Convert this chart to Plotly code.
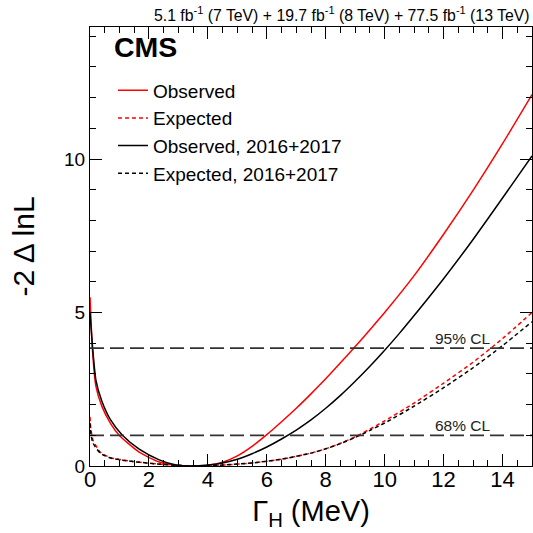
import plotly.graph_objects as go

# Observed (all data)
obs_x = [0, 0.08, 0.2, 0.4, 0.7, 0.99, 1.67, 2.35, 3.0, 3.7, 4.0, 4.5, 5.0, 5.5, 6.0, 6.5, 7.0, 7.5, 8.0, 8.5, 9.0, 9.5, 10.0, 11.0, 12.0, 13.0, 14.0, 15.0]
obs_y = [5.5, 3.84, 2.6, 1.95, 1.38, 1.0, 0.45, 0.13, 0.02, 0.0, 0.02, 0.12, 0.33, 0.64, 1.02, 1.44, 1.88, 2.35, 2.84, 3.36, 3.89, 4.44, 5.0, 6.2, 7.55, 8.98, 10.5, 12.1]
# Observed, 2016+2017
obs17_x = [0, 0.09, 0.2, 0.4, 0.7, 1.1, 1.67, 2.35, 2.92, 3.4, 4.0, 4.5, 5.0, 5.5, 6.0, 6.5, 7.0, 7.5, 8.0, 8.5, 9.0, 9.5, 10.0, 10.5, 11.0, 12.0, 13.0, 14.0, 15.0]
obs17_y = [5.0, 3.84, 2.8, 2.12, 1.5, 1.0, 0.55, 0.2, 0.03, 0.0, 0.03, 0.1, 0.22, 0.4, 0.62, 0.88, 1.17, 1.5, 1.88, 2.3, 2.76, 3.25, 3.77, 4.32, 4.9, 6.1, 7.38, 8.73, 10.1]
# Expected (all data)
exp_x = [0, 0.03, 0.1, 0.35, 0.7, 1.5, 2.5, 3.5, 4.5, 5.5, 6.5, 7.5, 8.0, 8.5, 9.0, 9.5, 10.0, 11.0, 12.0, 13.0, 14.0, 15.0]
exp_y = [1.6, 1.2, 0.85, 0.45, 0.27, 0.14, 0.05, 0.0, 0.03, 0.1, 0.22, 0.42, 0.56, 0.74, 0.95, 1.2, 1.47, 2.05, 2.7, 3.38, 4.15, 5.0]
# Expected, 2016+2017
exp17_x = [0, 0.03, 0.1, 0.35, 0.7, 1.5, 2.5, 3.5, 4.5, 5.5, 6.5, 7.5, 8.0, 8.5, 9.0, 9.5, 10.0, 11.0, 12.0, 13.0, 14.0, 15.0]
exp17_y = [1.4, 1.05, 0.75, 0.42, 0.26, 0.14, 0.05, 0.0, 0.03, 0.1, 0.22, 0.42, 0.56, 0.73, 0.93, 1.16, 1.4, 1.95, 2.55, 3.2, 3.92, 4.7]

cl_levels = [3.84, 1.0]
cl_labels = ["95% CL", "68% CL"]
x_range = [0, 15]

FONT = "Liberation Sans, Arial, Helvetica, sans-serif"

fig = go.Figure()
series = [
    ("Observed", obs_x, obs_y, "#ff0000", "solid"),
    ("Expected", exp_x, exp_y, "#ff0000", "4px,3px"),
    ("Observed, 2016+2017", obs17_x, obs17_y, "#000000", "solid"),
    ("Expected, 2016+2017", exp17_x, exp17_y, "#000000", "4px,3px"),
]
for i, (name, xs, ys, col, dash) in enumerate(series):
    fig.add_trace(go.Scatter(
        x=xs, y=ys, mode="lines", name=name, legendgroup=str(i),
        line=dict(color=col, width=1.5, dash=dash, shape="spline", smoothing=0.6),
    ))

for lvl, lab in zip(cl_levels, cl_labels):
    fig.add_trace(go.Scatter(
        x=x_range, y=[lvl, lvl], mode="lines", showlegend=False,
        line=dict(color="#333333", width=1.8, dash="14px,6px"),
    ))
    fig.add_annotation(x=12.65, y=lvl, text=lab, showarrow=False,
                       xanchor="center", yanchor="bottom", yshift=-1,
                       font=dict(family=FONT, size=15.5, color="#222"))

fig.add_annotation(xref="paper", yref="paper", x=0.05, y=0.955, text="<b>CMS</b>",
                   showarrow=False, xanchor="left", yanchor="middle",
                   font=dict(family=FONT, size=28.5, color="black"))
fig.add_annotation(xref="paper", yref="paper", x=1.0, y=1.003,
                   text="5.1 fb<sup>-1</sup> (7 TeV) + 19.7 fb<sup>-1</sup> (8 TeV) + 77.5 fb<sup>-1</sup> (13 TeV)",
                   showarrow=False, xanchor="right", yanchor="bottom",
                   font=dict(family=FONT, size=15.8, color="black"))

axis_common = dict(
    showline=True, linecolor="black", linewidth=1, mirror="ticks",
    ticks="inside", ticklen=12, tickcolor="black", tickwidth=1,
    showgrid=False, zeroline=False,
)
fig.update_xaxes(range=x_range, dtick=2, tick0=0, ticklabelstandoff=-6,
                 tickfont=dict(family=FONT, size=22, color="black"),
                 minor=dict(ticks="inside", ticklen=6, dtick=0.5, tickcolor="black"),
                 title=dict(text="Γ<sub>H</sub> (MeV)", font=dict(family=FONT, size=29, color="black"), standoff=9),
                 **axis_common)
fig.update_yaxes(range=[0, 14.3], dtick=5, tick0=0,
                 tickfont=dict(family=FONT, size=19, color="black"),
                 minor=dict(ticks="inside", ticklen=6, dtick=1, tickcolor="black"),
                 title=dict(text="-2 Δ lnL", font=dict(family=FONT, size=30, color="black"), standoff=20),
                 **axis_common)

fig.update_layout(
    width=533, height=533,
    margin=dict(l=90, r=1, t=27, b=67),
    paper_bgcolor="white", plot_bgcolor="white",
    legend=dict(x=0.052, y=0.899, xanchor="left", yanchor="top",
                bgcolor="rgba(0,0,0,0)", font=dict(family=FONT, size=19, color="black"),
                traceorder="grouped", tracegroupgap=0, itemwidth=30),
    showlegend=True,
)

fig.write_html("out.html", config={"displayModeBar": False},
               post_script="document.body.style.margin='0';document.body.style.padding='0';")
